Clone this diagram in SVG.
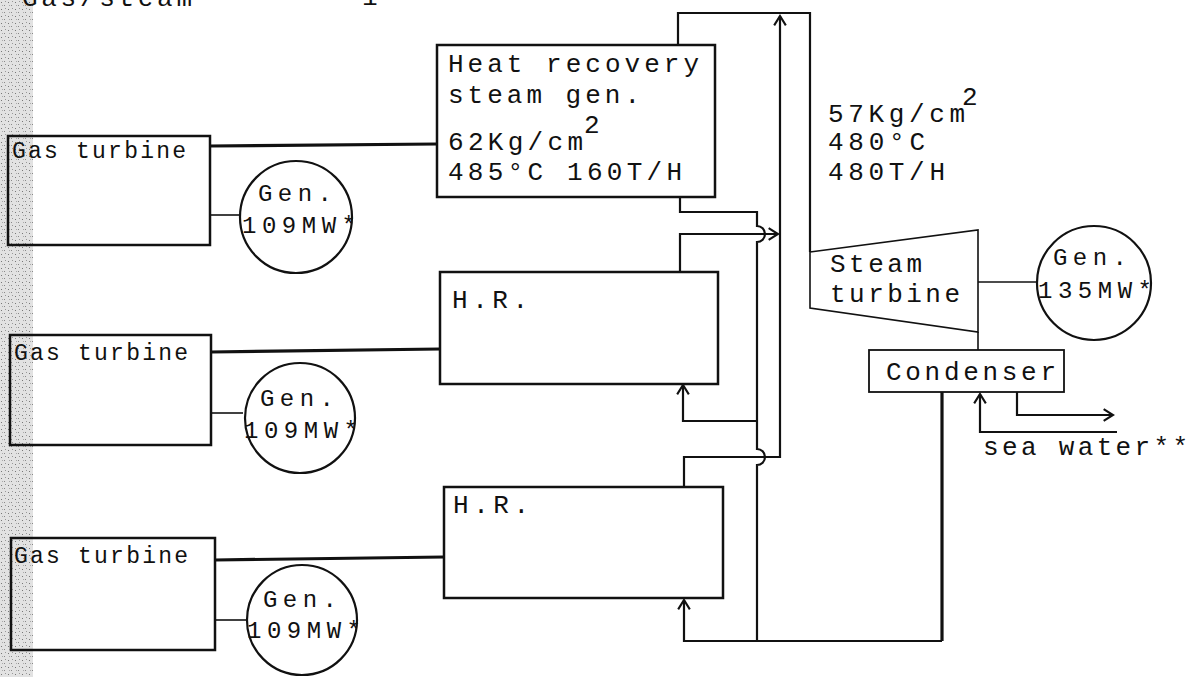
<svg xmlns="http://www.w3.org/2000/svg" width="1192" height="677" viewBox="0 0 1192 677">
<style>
.t{font-family:"Liberation Mono","DejaVu Sans Mono",monospace;font-size:26px;fill:#111}
.g{font-family:"Liberation Mono","DejaVu Sans Mono",monospace;font-size:24px;fill:#111}
.gt{font-family:"Liberation Mono","DejaVu Sans Mono",monospace;font-size:23px;fill:#111}
.box{fill:none;stroke:#111;stroke-width:2.5}
.gen{fill:#fff;stroke:#111;stroke-width:2.2}
.thin{fill:none;stroke:#111;stroke-width:1.6}
.pipe{fill:none;stroke:#111;stroke-width:2.2}
.thick{fill:none;stroke:#111;stroke-width:3.2}
</style>
<defs>
<pattern id="spk" width="7" height="7" patternUnits="userSpaceOnUse">
<rect width="7" height="7" fill="#e2e2e2"/>
<rect x="1" y="2" width="1" height="1" fill="#777"/>
<rect x="4" y="5" width="1" height="1" fill="#888"/>
<rect x="5" y="1" width="1" height="1" fill="#999"/>
<rect x="2" y="5" width="1" height="1" fill="#aaa"/>
</pattern>
<marker id="ar" markerUnits="userSpaceOnUse" markerWidth="14" markerHeight="14" refX="10" refY="5" orient="auto" viewBox="0 0 12 10">
<path d="M2,0 L10,5 L2,10" fill="none" stroke="#111" stroke-width="1.8"/>
</marker>
</defs>
<rect width="1192" height="677" fill="#fff"/>
<rect x="0" y="0" width="33" height="677" fill="url(#spk)"/>
<g id="heading">
<text class="t" x="22" y="6" textLength="170" lengthAdjust="spacing">Gas/steam</text>
<text class="t" x="362" y="5">1</text>
</g>
<g id="connectors">
<line class="thick" x1="210" y1="146" x2="437" y2="144"/>
<line class="thick" x1="211" y1="352" x2="440" y2="349"/>
<line class="thick" x1="215" y1="560" x2="444" y2="557"/>
<line class="thin" x1="210" y1="215" x2="240" y2="215"/>
<line class="thin" x1="211" y1="413" x2="243" y2="413"/>
<line class="thin" x1="215" y1="620" x2="247" y2="620"/>
<polyline class="pipe" points="678,46 678,13 810,13 810,252"/>
<polyline class="pipe" points="684,487 684,457 780,457 780,16" marker-end="url(#ar)"/>
<polyline class="pipe" points="680,272 680,234 778,234" marker-end="url(#ar)"/>
<path class="pipe" d="M680,198 L680,212 L757,212 L757,226 A8,8 0 0 1 757,242 L757,449 A8,8 0 0 1 757,465 L757,641"/>
<polyline class="pipe" points="757,421 683,421 683,385" marker-end="url(#ar)"/>
<polyline class="pipe" points="942,641 684,641 684,600" marker-end="url(#ar)"/>
<line class="thick" x1="942" y1="392" x2="942" y2="641"/>
<line class="thin" x1="978" y1="282" x2="1036" y2="282"/>
<line class="thin" x1="978" y1="332" x2="978" y2="350"/>
<polyline class="pipe" points="1117,432 980,432 980,394" marker-end="url(#ar)"/>
<polyline class="pipe" points="1017,392 1017,415 1113,415" marker-end="url(#ar)"/>
</g>
<g id="gt1">
<rect class="box" x="8" y="136" width="202" height="109"/>
<text class="gt" x="12" y="158" textLength="174" lengthAdjust="spacing">Gas turbine</text>
</g>
<g id="gt2">
<rect class="box" x="10" y="335" width="201" height="110"/>
<text class="gt" x="14" y="360" textLength="174" lengthAdjust="spacing">Gas turbine</text>
</g>
<g id="gt3">
<rect class="box" x="11" y="538" width="204" height="112"/>
<text class="gt" x="14" y="563" textLength="174" lengthAdjust="spacing">Gas turbine</text>
</g>
<g id="gen1">
<circle class="gen" cx="296" cy="217" r="56"/>
<text class="g" x="258" y="201" textLength="74" lengthAdjust="spacing">Gen.</text>
<text class="g" x="242" y="233" textLength="114" lengthAdjust="spacing">109MW*</text>
</g>
<g id="gen2">
<circle class="gen" cx="300" cy="418" r="55"/>
<text class="g" x="260" y="406" textLength="74" lengthAdjust="spacing">Gen.</text>
<text class="g" x="244" y="438" textLength="114" lengthAdjust="spacing">109MW*</text>
</g>
<g id="gen3">
<circle class="gen" cx="302" cy="620" r="55"/>
<text class="g" x="263" y="607" textLength="74" lengthAdjust="spacing">Gen.</text>
<text class="g" x="247" y="638" textLength="114" lengthAdjust="spacing">109MW*</text>
</g>
<g id="hrsg1">
<rect class="box" x="437" y="45" width="278" height="152"/>
<text class="t" x="448" y="72" textLength="251" lengthAdjust="spacing">Heat recovery</text>
<text class="t" x="448" y="103" textLength="192" lengthAdjust="spacing">steam gen.</text>
<text class="t" x="448" y="150" textLength="135" lengthAdjust="spacing">62Kg/cm</text>
<text class="t" x="584" y="133">2</text>
<text class="t" x="448" y="180" textLength="234" lengthAdjust="spacing">485°C 160T/H</text>
</g>
<g id="hr2">
<rect class="box" x="440" y="272" width="278" height="112"/>
<text class="t" x="452" y="308" textLength="76" lengthAdjust="spacing">H.R.</text>
</g>
<g id="hr3">
<rect class="box" x="444" y="487" width="279" height="111"/>
<text class="t" x="453" y="513" textLength="76" lengthAdjust="spacing">H.R.</text>
</g>
<g id="steam-conditions">
<text class="t" x="828" y="122" textLength="137" lengthAdjust="spacing">57Kg/cm</text>
<text class="t" x="962" y="105">2</text>
<text class="t" x="828" y="150" textLength="97" lengthAdjust="spacing">480°C</text>
<text class="t" x="828" y="180" textLength="117" lengthAdjust="spacing">480T/H</text>
</g>
<g id="steam-turbine">
<polygon class="thin" points="810,252 978,230 978,332 810,308"/>
<text class="t" x="830" y="272" textLength="92" lengthAdjust="spacing">Steam</text>
<text class="t" x="830" y="302" textLength="130" lengthAdjust="spacing">turbine</text>
</g>
<g id="gen4">
<circle class="gen" cx="1094" cy="283" r="57"/>
<text class="g" x="1053" y="265" textLength="74" lengthAdjust="spacing">Gen.</text>
<text class="g" x="1038" y="298" textLength="114" lengthAdjust="spacing">135MW*</text>
</g>
<g id="condenser">
<rect class="box" x="869" y="350" width="195" height="42" style="stroke-width:1.8"/>
<text class="t" x="886" y="380" textLength="170" lengthAdjust="spacing">Condenser</text>
</g>
<g id="sea-water">
<text class="t" x="983" y="455" textLength="205" lengthAdjust="spacing">sea water**</text>
</g>
</svg>
